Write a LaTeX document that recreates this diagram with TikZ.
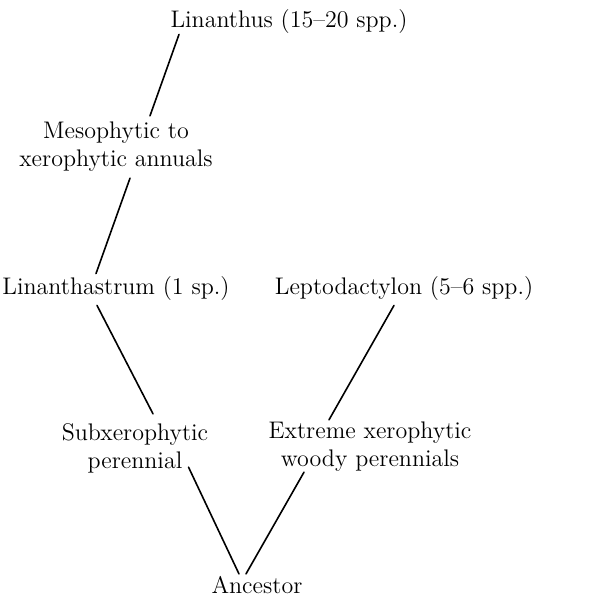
\documentclass[tikz,border=0pt]{standalone}

\tikzset{
    taxon/.style={inner sep=0pt, align=center, font=\fontsize{12}{14}\selectfont},
    link/.style={thick, line cap=round}
}

\begin{document}
\begin{tikzpicture}[x=0.5pt, y=-0.5pt]
    \useasboundingbox (0,0) rectangle (611,596);

    % Groups and stages
    \node[taxon] (lin)  at (289,22)  {Linanthus (15--20 spp.)};
    \node[taxon] (meso) at (116,147) {Mesophytic to\\xerophytic annuals};
    \node[taxon] (lsm)  at (116,289) {Linanthastrum (1 sp.)};
    \node[taxon] (lep)  at (404,289) {Leptodactylon (5--6 spp.)};
    \node[taxon] (sub)  at (135,448) {Subxerophytic\\perennial};
    \node[taxon] (ext)  at (370,447) {Extreme xerophytic\\woody perennials};
    \node[taxon] (anc)  at (257,585) {Ancestor};

    % Left branch
    \draw[link] ([xshift=-55pt]lin.south) -- ([xshift=17pt, yshift=3pt]meso.north);
    \draw[link] ([xshift=7pt, yshift=-3pt]meso.south) -- ([xshift=-10pt, yshift=1.5pt]lsm.north);
    \draw[link] ([xshift=-9.5pt, yshift=-2pt]lsm.south) -- ([xshift=9pt, yshift=4.5pt]sub.north);
    \draw[link] ([xshift=-10pt, yshift=3pt]sub.south east) -- ([xshift=-9pt, yshift=1pt]anc.north);

    % Right branch
    \draw[link] ([xshift=-5pt, yshift=-2pt]lep.south) -- ([xshift=-20.5pt, yshift=1pt]ext.north);
    \draw[link] ([xshift=-33pt]ext.south) -- ([xshift=-5.5pt, yshift=1pt]anc.north);

\end{tikzpicture}
\end{document}
